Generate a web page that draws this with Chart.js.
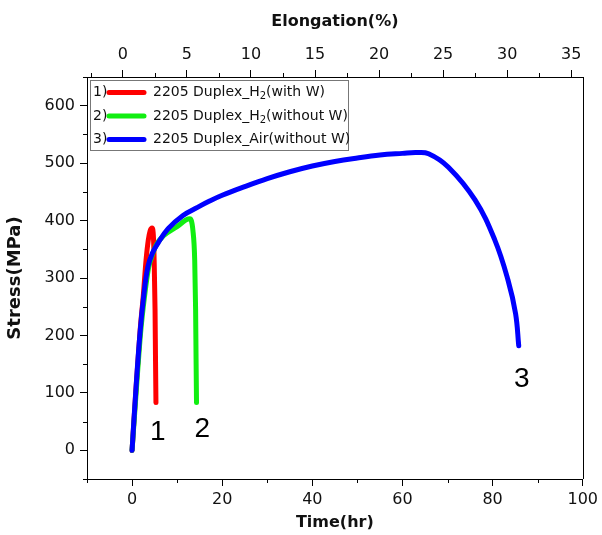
<!DOCTYPE html>
<html>
<head>
<meta charset="utf-8">
<script src="https://cdn.jsdelivr.net/npm/chart.js@4.4.0/dist/chart.umd.min.js"></script>
<style>
  html, body { margin: 0; background: #fff; }
  #wrap { width: 602px; height: 535px; position: relative; }
</style>
</head>
<body>
<div id="wrap"><canvas id="chart"></canvas></div>
<script>
/* 2205 duplex tensile curves: stress vs time, elongation on top axis */

// ----- data
const seriesNames = ['2205 Duplex_H₂(with W)', '2205 Duplex_H₂(without W)', '2205 Duplex_Air(without W)'];
const seriesTags  = ['1)', '2)', '3)'];

const redTime   = [0, 0.9, 1.8, 2.5, 3.1, 3.6, 4.0, 4.45, 4.75, 4.9, 5.1, 5.2, 5.3];
const redStress = [0, 110, 210, 270, 331, 366, 382, 387, 370, 331, 245, 160, 83];

const greenTime   = [0, 0.9, 1.9, 2.8, 3.7, 4.4, 5.4, 6.9, 9.9, 12.8, 13.5, 13.9, 14.1, 14.2, 14.3];
const greenStress = [0, 100, 205, 270, 319, 338, 358, 373, 389, 403, 383, 331, 245, 160, 83];

const blueTime   = [0, 0.8, 1.77, 2.6, 3.5, 4.5, 5.7, 8, 11.3, 14.5, 17.2, 20, 25, 30, 35, 40, 45, 50, 55, 60, 63, 65.8, 70.2, 76.1, 80.5, 83.4, 85.1, 85.8];
const blueStress = [0, 100, 205, 270, 319, 343, 360, 386, 409, 423, 434, 444, 459, 473, 485, 495, 503, 509, 514, 517, 518.5, 516.5, 493, 436, 366, 297, 238, 182];

// curve end labels
const endLabels = ['1', '2', '3'];
const endLabelTime   = [5.7, 15.6, 86.5];
const endLabelStress = [31, 37, 123];

// axes
const timeTicks   = [0, 20, 40, 60, 80, 100];
const timeMinor   = [-10, 10, 30, 50, 70, 90];
const elongTicks  = [0, 5, 10, 15, 20, 25, 30, 35];
const elongMinor  = [-2.5, 2.5, 7.5, 12.5, 17.5, 22.5, 27.5, 32.5];
const stressTicks = [0, 100, 200, 300, 400, 500, 600];
const stressMinor = [-50, 50, 150, 250, 350, 450, 550, 650];

const colors = ['#ff0000', '#11ee11', '#0000ff'];

const FONT = 'DejaVu Sans';
const pts = (xs, ys) => xs.map((x, i) => ({ x, y: ys[i] }));

// ----- plugins
const frameAndMinor = {
  id: 'frameAndMinor',
  afterDraw(chart) {
    const { ctx, chartArea: a, scales: s } = chart;
    ctx.save();
    ctx.strokeStyle = '#000';
    ctx.lineWidth = 1;
    ctx.beginPath();
    timeMinor.forEach(v => {
      const p = Math.round(s.x.getPixelForValue(v)) + 0.5;
      ctx.moveTo(p, a.bottom); ctx.lineTo(p, a.bottom + 4);
    });
    elongMinor.forEach(v => {
      const p = Math.round(s.x2.getPixelForValue(v)) + 0.5;
      ctx.moveTo(p, a.top); ctx.lineTo(p, a.top - 4);
    });
    stressMinor.forEach(v => {
      const p = Math.round(s.y.getPixelForValue(v)) + 0.5;
      ctx.moveTo(a.left, p); ctx.lineTo(a.left - 4, p);
    });
    const r = Math.round(a.right) + 0.5;
    ctx.moveTo(r, a.top); ctx.lineTo(r, a.bottom);
    ctx.stroke();
    ctx.restore();
  }
};

const endLabelPlugin = {
  id: 'endLabels',
  afterDatasetsDraw(chart) {
    const { ctx, scales: s } = chart;
    ctx.save();
    ctx.fillStyle = '#000';
    ctx.font = '28px "Liberation Sans", Arial, sans-serif';
    ctx.textAlign = 'center';
    ctx.textBaseline = 'middle';
    endLabels.forEach((t, i) => {
      ctx.fillText(t, s.x.getPixelForValue(endLabelTime[i]), s.y.getPixelForValue(endLabelStress[i]));
    });
    ctx.restore();
  }
};

// text with "₂" drawn as a real subscript
function drawSubText(ctx, str, x, y, size) {
  const parts = str.split('₂');
  parts.forEach((p, i) => {
    ctx.font = `${size}px "${FONT}"`;
    ctx.fillText(p, x, y);
    x += ctx.measureText(p).width;
    if (i < parts.length - 1) {
      ctx.font = `${Math.round(size * 0.7)}px "${FONT}"`;
      ctx.fillText('2', x, y + 4);
      x += ctx.measureText('2').width;
    }
  });
}

const boxLegend = {
  id: 'boxLegend',
  afterDatasetsDraw(chart) {
    const { ctx, chartArea: a } = chart;
    const bx = a.left + 3, by = a.top + 3, bw = 258, bh = 70;
    ctx.save();
    ctx.fillStyle = '#fff';
    ctx.fillRect(bx, by, bw, bh);
    ctx.strokeStyle = '#777';
    ctx.lineWidth = 1;
    ctx.strokeRect(Math.round(bx) + 0.5, Math.round(by) + 0.5, bw, bh);
    const rows = [12.5, 36, 59.5];
    ctx.textBaseline = 'middle';
    ctx.fillStyle = '#111';
    seriesNames.forEach((name, i) => {
      const y = by + rows[i];
      ctx.font = `14px "${FONT}"`;
      ctx.fillText(seriesTags[i], bx + 3, y);
      ctx.beginPath();
      ctx.strokeStyle = colors[i];
      ctx.lineWidth = 5;
      ctx.lineCap = 'round';
      ctx.moveTo(bx + 19, y);
      ctx.lineTo(bx + 54, y);
      ctx.stroke();
      drawSubText(ctx, name, bx + 63, y, 14);
    });
    ctx.restore();
  }
};

// ----- chart
const tickFont = { family: FONT, size: 16 };
const axisGrid = { display: true, drawOnChartArea: false, drawTicks: true, tickLength: 7, tickColor: '#000', tickWidth: 1 };
const axisBorder = { display: true, color: '#000', width: 1 };

const mk = (idx, xs, ys, order, smooth) => ({
  label: seriesNames[idx],
  data: pts(xs, ys),
  borderColor: colors[idx],
  backgroundColor: colors[idx],
  borderWidth: 5,
  borderCapStyle: 'round',
  borderJoinStyle: 'round',
  pointRadius: 0,
  ...(smooth ? { tension: 0.4 } : { cubicInterpolationMode: 'monotone' }),
  fill: false,
  order
});

new Chart(document.getElementById('chart'), {
  type: 'line',
  data: {
    datasets: [
      mk(0, redTime, redStress, 2, false),
      mk(1, greenTime, greenStress, 1, false),
      mk(2, blueTime, blueStress, 0, true)
    ]
  },
  options: {
    responsive: true,
    maintainAspectRatio: false,
    animation: false,
    layout: { padding: { left: 0, right: 17, top: 0, bottom: 0 } },
    plugins: { legend: { display: false }, tooltip: { enabled: false } },
    scales: {
      x: {
        type: 'linear', position: 'bottom', min: -10, max: 100,
        afterBuildTicks: s => { s.ticks = timeTicks.map(v => ({ value: v })); },
        afterFit: s => { s.height = 56; },
        grid: axisGrid, border: axisBorder,
        ticks: { font: tickFont, color: '#111', padding: 4, maxRotation: 0 },
        title: { display: true, text: 'Time(hr)', color: '#111',
                 font: { family: FONT, size: 16, weight: 'bold' }, padding: { top: 0, bottom: 3 } }
      },
      x2: {
        type: 'linear', position: 'top', min: -2.8, max: 35.9,
        afterBuildTicks: s => { s.ticks = elongTicks.map(v => ({ value: v })); },
        afterFit: s => { s.height = 77; },
        grid: axisGrid, border: axisBorder,
        ticks: { font: tickFont, color: '#111', padding: 6, maxRotation: 0 },
        title: { display: true, text: 'Elongation(%)', color: '#111',
                 font: { family: FONT, size: 16, weight: 'bold' }, padding: { top: 12, bottom: 0 } }
      },
      y: {
        type: 'linear', position: 'left', min: -50, max: 650,
        afterBuildTicks: s => { s.ticks = stressTicks.map(v => ({ value: v })); },
        afterFit: s => { s.width = 87; },
        grid: axisGrid, border: axisBorder,
        ticks: { font: tickFont, color: '#111', padding: 5 },
        title: { display: true, text: 'Stress(MPa)', color: '#111',
                 font: { family: FONT, size: 18, weight: 'bold' }, padding: { top: 5, bottom: 0 } }
      }
    }
  },
  plugins: [frameAndMinor, endLabelPlugin, boxLegend]
});
</script>
</body>
</html>
